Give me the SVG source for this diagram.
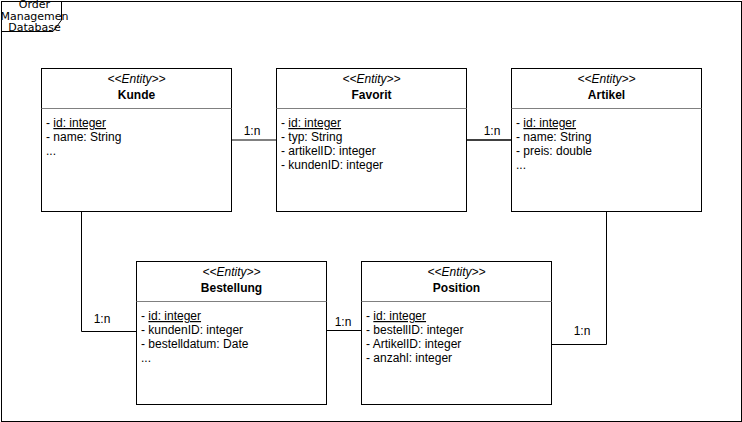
<svg xmlns="http://www.w3.org/2000/svg" width="742" height="422" viewBox="0 0 742 422">
<style>
.box{fill:#fff;stroke:#000;stroke-width:1}
.sep{stroke:#808080;stroke-width:1}
.st{font-family:"Liberation Sans",Arial,sans-serif;font-size:12px;font-style:italic;text-anchor:middle;fill:#000}
.nm{font-family:"Liberation Sans",Arial,sans-serif;font-size:12px;font-weight:bold;text-anchor:middle;fill:#000}
.at{font-family:"Liberation Sans",Arial,sans-serif;font-size:12px;fill:#000}
.lb{font-family:"Liberation Sans",Arial,sans-serif;font-size:12px;text-anchor:middle;fill:#000}
.ln{fill:none;stroke:#000;stroke-width:1}
.tab{font-family:"DejaVu Sans",Verdana,sans-serif;font-size:11px;text-anchor:middle;fill:#000}
</style>
<rect x="0" y="0" width="742" height="422" fill="#fff"/>
<g id="package">
<rect x="1.5" y="1.5" width="740" height="420" fill="none" stroke="#000"/>
<path d="M1.5,1.5 H61.5 V20 L53,31.5 H1.5" fill="none" stroke="#000"/>
<text class="tab" x="34.5" y="8">Order</text>
<text class="tab" x="34.5" y="20">Managemen</text>
<text class="tab" x="34.5" y="31">Database</text>
</g>
<g id="connectors">
<line x1="231.5" y1="140" x2="276.5" y2="140" stroke="#808080" stroke-width="2"/>
<text class="lb" x="252" y="135">1:n</text>
<line x1="466.5" y1="140" x2="511.5" y2="140" stroke="#404040" stroke-width="2"/>
<text class="lb" x="492" y="135">1:n</text>
<polyline class="ln" points="81.5,211.5 81.5,331.5 136.5,331.5"/>
<text class="lb" x="102" y="323">1:n</text>
<line class="ln" x1="326.5" y1="330.5" x2="361.5" y2="330.5"/>
<text class="lb" x="343" y="326">1:n</text>
<polyline class="ln" points="606.5,211.5 606.5,344.5 551.5,344.5"/>
<text class="lb" x="582" y="335">1:n</text>
</g>
<g id="kunde">
<rect class="box" x="41.5" y="68.5" width="190" height="143"/>
<text class="st" x="136.5" y="83">&lt;&lt;Entity&gt;&gt;</text>
<text class="nm" x="136.5" y="99">Kunde</text>
<line class="sep" x1="41.5" y1="108.5" x2="231.5" y2="108.5"/>
<text class="at" x="46" y="127">- <tspan text-decoration="underline">id: integer</tspan></text>
<text class="at" x="46" y="141">- name: String</text>
<text class="at" x="46" y="155">...</text>
</g>
<g id="favorit">
<rect class="box" x="276.5" y="68.5" width="190" height="143"/>
<text class="st" x="371.5" y="83">&lt;&lt;Entity&gt;&gt;</text>
<text class="nm" x="371.5" y="99">Favorit</text>
<line class="sep" x1="276.5" y1="108.5" x2="466.5" y2="108.5"/>
<text class="at" x="281" y="127">- <tspan text-decoration="underline">id: integer</tspan></text>
<text class="at" x="281" y="141">- typ: String</text>
<text class="at" x="281" y="155">- artikelID: integer</text>
<text class="at" x="281" y="169">- kundenID: integer</text>
</g>
<g id="artikel">
<rect class="box" x="511.5" y="68.5" width="190" height="143"/>
<text class="st" x="606.5" y="83">&lt;&lt;Entity&gt;&gt;</text>
<text class="nm" x="606.5" y="99">Artikel</text>
<line class="sep" x1="511.5" y1="108.5" x2="701.5" y2="108.5"/>
<text class="at" x="516" y="127">- <tspan text-decoration="underline">id: integer</tspan></text>
<text class="at" x="516" y="141">- name: String</text>
<text class="at" x="516" y="155">- preis: double</text>
<text class="at" x="516" y="169">...</text>
</g>
<g id="bestellung">
<rect class="box" x="136.5" y="261.5" width="190" height="143"/>
<text class="st" x="231.5" y="276">&lt;&lt;Entity&gt;&gt;</text>
<text class="nm" x="231.5" y="292">Bestellung</text>
<line class="sep" x1="136.5" y1="301.5" x2="326.5" y2="301.5"/>
<text class="at" x="141" y="320">- <tspan text-decoration="underline">id: integer</tspan></text>
<text class="at" x="141" y="334">- kundenID: integer</text>
<text class="at" x="141" y="348">- bestelldatum: Date</text>
<text class="at" x="141" y="362">...</text>
</g>
<g id="position">
<rect class="box" x="361.5" y="261.5" width="190" height="143"/>
<text class="st" x="456.5" y="276">&lt;&lt;Entity&gt;&gt;</text>
<text class="nm" x="456.5" y="292">Position</text>
<line class="sep" x1="361.5" y1="301.5" x2="551.5" y2="301.5"/>
<text class="at" x="366" y="320">- <tspan text-decoration="underline">id: integer</tspan></text>
<text class="at" x="366" y="334">- bestellID: integer</text>
<text class="at" x="366" y="348">- ArtikelID: integer</text>
<text class="at" x="366" y="362">- anzahl: integer</text>
</g>
</svg>
